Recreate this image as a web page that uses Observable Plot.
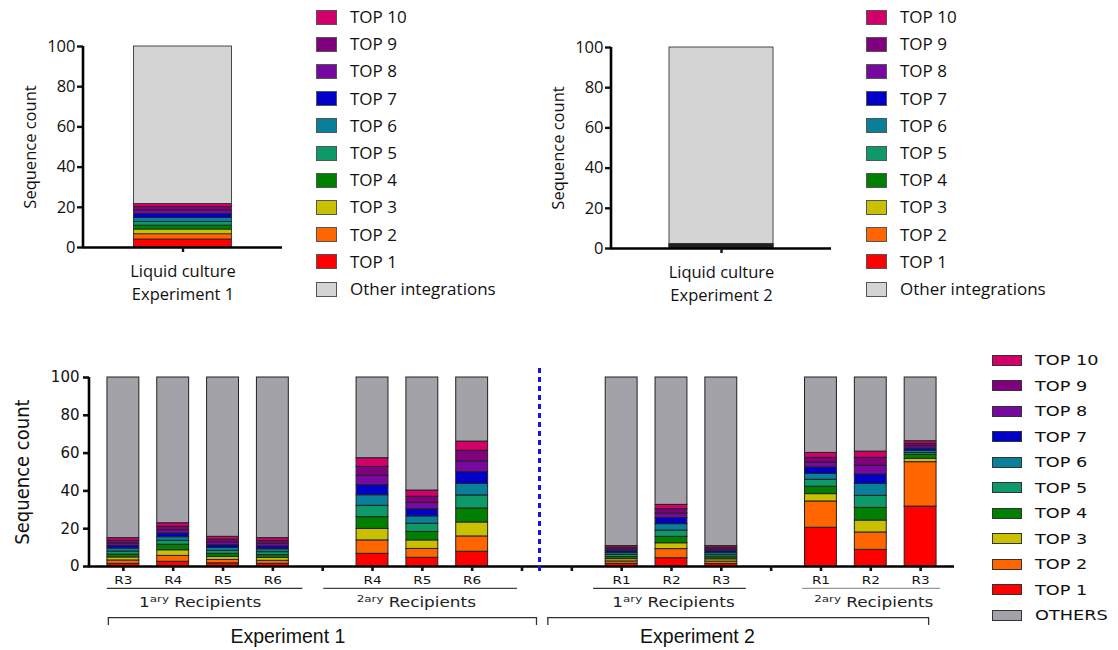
<!DOCTYPE html>
<html><head><meta charset="utf-8">
<script src="https://cdn.jsdelivr.net/npm/d3@7"></script>
<script src="https://cdn.jsdelivr.net/npm/@observablehq/plot@0.6"></script>
<style>
body{margin:0;background:#fff;}
#root{position:relative;width:1118px;height:650px;overflow:hidden;background:#fff;}
.panel{position:absolute;}
.panel svg{overflow:visible;}
</style></head><body>
<div id="root"></div>
<script>
// ---------------- DATA ----------------
const seriesNames = ["TOP 1","TOP 2","TOP 3","TOP 4","TOP 5","TOP 6","TOP 7","TOP 8","TOP 9","TOP 10"];
const seriesColors = ["#ff0000","#ff6600","#c8c000","#008000","#0e9a68","#0a7f99","#0000c8","#7708a0","#800080","#d4006a"];
const topOtherName = "Other integrations";
const topOtherColor = "#d4d4d4";
const bottomOtherName = "OTHERS";
const bottomOtherColor = "#a3a2a8";

// top panels: one bar each
const liquidExp1Category = "Liquid culture\nExperiment 1";
const liquidExp2Category = "Liquid culture\nExperiment 2";
const liquidExp1 = [4.0, 2.6, 2.3, 2.0, 1.8, 2.0, 2.0, 1.7, 1.7, 1.5];
const liquidExp2 = [0.3, 0.25, 0.25, 0.25, 0.2, 0.2, 0.2, 0.2, 0.2, 0.2];

// bottom panel categories (blank ones are spacers)
const bottomCategories = ["e1p_R3","e1p_R4","e1p_R5","e1p_R6","gap1","e1s_R4","e1s_R5","e1s_R6","gap2","gap3","e2p_R1","e2p_R2","e2p_R3","gap4","e2s_R1","e2s_R2","e2s_R3"];
const bottomTickLabels = ["R3","R4","R5","R6","","R4","R5","R6","","","R1","R2","R3","","R1","R2","R3"];

// TOP 1 .. TOP 10 shares per recipient
const e1p_R3 = [1.4, 1.8, 1.6, 1.5, 1.6, 1.6, 1.4, 1.3, 1.4, 1.4];
const e1p_R4 = [2.5, 3.1, 3.0, 2.9, 2.1, 1.9, 2.0, 1.7, 1.8, 1.9];
const e1p_R5 = [1.7, 1.8, 1.6, 1.6, 1.6, 1.5, 1.5, 1.5, 1.4, 1.5];
const e1p_R6 = [1.4, 1.6, 1.5, 1.5, 1.6, 1.5, 1.5, 1.5, 1.4, 1.5];
const e1s_R4 = [6.7, 7.1, 6.1, 6.2, 6.0, 5.6, 5.3, 5.0, 4.7, 4.6];
const e1s_R5 = [4.6, 4.7, 4.5, 4.5, 4.3, 3.9, 3.8, 3.4, 3.2, 3.3];
const e1s_R6 = [7.8, 8.1, 7.4, 7.4, 6.9, 6.1, 6.2, 5.7, 5.6, 4.9];
const e2p_R1 = [1.4, 1.3, 1.2, 1.1, 1.1, 1.0, 1.0, 0.9, 0.9, 0.9];
const e2p_R2 = [4.4, 4.8, 3.1, 3.4, 3.3, 3.4, 3.2, 2.4, 2.3, 2.3];
const e2p_R3 = [1.3, 1.3, 1.2, 1.1, 1.1, 1.1, 1.0, 0.9, 0.9, 0.9];
const e2s_R1 = [20.5, 13.9, 3.9, 3.9, 3.7, 3.1, 3.4, 2.6, 2.5, 2.6];
const e2s_R2 = [8.8, 9.2, 6.3, 6.7, 6.4, 6.3, 5.0, 4.6, 4.2, 3.3];
const e2s_R3 = [31.7, 23.5, 1.8, 2.1, 1.0, 1.1, 1.2, 1.3, 1.2, 1.4];

const yTicks = [0, 20, 40, 60, 80, 100];

// annotation texts under the bottom panel
const groupLabels = ["1ary Recipients","2ary Recipients","1ary Recipients","2ary Recipients"];
const groupSpans = [["e1p_R3","e1p_R6"],["gap1","gap2"],["e2p_R1","e2p_R3"],["e2s_R1","e2s_R3"]];
const groupLabelAt = ["e1p_R4","e1s_R5","e2p_R2","e2s_R2"];
const experimentLabels = ["Experiment 1","Experiment 2"];
const experimentSpans = [["e1p_R3","gap2"],["gap3","e2s_R3"]];
const experimentLabelAt = ["e1p_R6","e2p_R2"];
const dividerAt = "gap2";

// ---------------- LAYOUT (pixel offsets only) ----------------
const groupLineOffsets = [[-16, 30], [1, -4.5], [-28, 25], [-18.5, 20]];
const groupLineColors = ["#333", "#444", "#333", "#999"];
const groupLabelDx = [27, -6, 2, 3];
const experimentOffsets = [[-15, 14.5], [-24, 8]];
const experimentLabelDx = [15, 26];
const dividerDx = 17.5;
const yLine = -11.6, yGroupText = -21.2, yBracket = -27, yBracketEnd = -31.2, yExpText = -40.7;

// ---------------- BUILD ----------------
const root = d3.select("#root");
const colorOf = new Map(seriesNames.map((s, i) => [s, seriesColors[i]]));
colorOf.set(topOtherName, topOtherColor);
colorOf.set(bottomOtherName, bottomOtherColor);

function stackRows(cat, values, otherName) {
  const rows = values.map((v, i) => ({cat, series: seriesNames[i], value: v}));
  rows.push({cat, series: otherName, value: 100 - d3.sum(values)});
  return rows;
}

function addYAxisLine(svg) {
  const yr = svg.scale("y").range, xr = svg.scale("x").range;
  d3.select(svg).append("line")
    .attr("x1", xr[0]).attr("x2", xr[0]).attr("y1", yr[0] + 1.2).attr("y2", yr[1])
    .attr("stroke", "#000").attr("stroke-width", 2.6);
}

function topPanel(cat, values, o) {
  const rows = stackRows(cat, values, topOtherName);
  const svg = Plot.plot({
    width: o.width, height: 310,
    marginLeft: 83, marginRight: o.marginRight, marginTop: 46, marginBottom: 63,
    style: {fontFamily: "'Open Sans', sans-serif", fontSize: "16.5px", color: "#111", background: "transparent"},
    x: {domain: [cat], padding: o.padding, round: false, label: null},
    y: {domain: [0, 100], label: null},
    color: {domain: [...seriesNames, topOtherName], range: [...seriesColors, topOtherColor]},
    marks: [
      Plot.barY(rows, {x: "cat", y: "value", fill: "series", stroke: "#222", strokeWidth: 0.8}),
      Plot.ruleY([0], {strokeWidth: 2.6, stroke: "#000"}),
      Plot.axisY(yTicks, {tickSize: 6, strokeWidth: 2.4, tickPadding: 2, fontSize: 16.5, label: null}),
      Plot.axisX({tickSize: 5, strokeWidth: 2.4, tickPadding: 7, fontSize: 16.5, lineHeight: 1.45, label: null}),
      Plot.text(["Sequence count"], {frameAnchor: "left", textAnchor: "middle", rotate: -90, dx: -53, fontSize: 16.5})
    ]
  });
  addYAxisLine(svg);
  root.append("div").attr("class", "panel").style("left", o.left + "px").style("top", o.top + "px").node().appendChild(svg);
}

topPanel(liquidExp1Category, liquidExp1, {left: 0, top: 0, width: 300, marginRight: 18, padding: 0.34});
topPanel(liquidExp2Category, liquidExp2, {left: 528, top: 1, width: 320, marginRight: 17, padding: 0.358});

// bottom panel
const bottomBars = [e1p_R3, e1p_R4, e1p_R5, e1p_R6, null, e1s_R4, e1s_R5, e1s_R6, null, null, e2p_R1, e2p_R2, e2p_R3, null, e2s_R1, e2s_R2, e2s_R3];
const bottomRows = bottomBars.flatMap((vals, i) => vals ? stackRows(bottomCategories[i], vals, bottomOtherName) : []);
const tickLabelOf = new Map(bottomCategories.map((c, i) => [c, bottomTickLabels[i]]));

const annotationMarks = [];
groupLabels.forEach((lab, i) => {
  const [a, b] = groupSpans[i];
  const [s, e] = groupLineOffsets[i];
  annotationMarks.push(Plot.ruleY([{a, b}], {x1: "a", x2: "b", y: () => yLine, stroke: groupLineColors[i], strokeWidth: 1.3,
    insetLeft: s + 15.95, insetRight: 15.95 - e}));
  annotationMarks.push(Plot.text([lab], {x: () => groupLabelAt[i], y: () => yGroupText, dx: groupLabelDx[i], lineAnchor: "bottom",
    fontSize: 13.5, fontFamily: "'DejaVu Sans', sans-serif", fill: "#222"}));
});
experimentLabels.forEach((lab, i) => {
  const [a, b] = experimentSpans[i];
  const [s, e] = experimentOffsets[i];
  annotationMarks.push(Plot.ruleY([{a, b}], {x1: "a", x2: "b", y: () => yBracket, stroke: "#333", strokeWidth: 1.3,
    insetLeft: s + 15.95, insetRight: 15.95 - e}));
  annotationMarks.push(Plot.ruleX([a], {x: d => d, dx: s, y1: () => yBracket, y2: () => yBracketEnd, stroke: "#333", strokeWidth: 1.3}));
  annotationMarks.push(Plot.ruleX([b], {x: d => d, dx: e, y1: () => yBracket, y2: () => yBracketEnd, stroke: "#333", strokeWidth: 1.3}));
  annotationMarks.push(Plot.text([lab], {x: () => experimentLabelAt[i], y: () => yExpText, dx: experimentLabelDx[i], lineAnchor: "bottom",
    fontSize: 19.5, fontFamily: "'Liberation Sans', Arial, sans-serif", fill: "#111"}));
});

const bottomSvg = Plot.plot({
  width: 975, height: 310,
  marginLeft: 89, marginRight: 21, marginTop: 37, marginBottom: 84,
  style: {fontFamily: "'DejaVu Sans', sans-serif", fontSize: "15px", color: "#111", background: "transparent"},
  x: {domain: bottomCategories, padding: 0.36, round: false, label: null, tickFormat: d => tickLabelOf.get(d)},
  y: {domain: [0, 100], label: null},
  color: {domain: [...seriesNames, bottomOtherName], range: [...seriesColors, bottomOtherColor]},
  marks: [
    Plot.barY(bottomRows, {x: "cat", y: "value", fill: "series", stroke: "#222", strokeWidth: 1}),
    Plot.ruleY([0], {strokeWidth: 2.6, stroke: "#000"}),
    Plot.axisY(yTicks, {tickSize: 6, strokeWidth: 2.6, tickPadding: 4, fontSize: 15, label: null}),
    Plot.axisX({tickSize: 5, strokeWidth: 2.6, tickPadding: 5, fontSize: 10.5, label: null, tickFormat: d => tickLabelOf.get(d)}),
    Plot.ruleX([dividerAt], {x: d => d, dx: dividerDx, y1: () => -2.6, y2: () => 104.8, stroke: "#1414e6", strokeWidth: 3, strokeDasharray: "5,4"}),
    Plot.text(["Sequence count"], {frameAnchor: "left", textAnchor: "middle", rotate: -90, dx: -67, fontSize: 20,
      fontFamily: "'Liberation Sans Narrow', 'DejaVu Sans Condensed', sans-serif"}),
    ...annotationMarks
  ]
});
addYAxisLine(bottomSvg);
root.append("div").attr("class", "panel").style("left", "0px").style("top", "340px").node().appendChild(bottomSvg);

// post-process: superscripts and wide glyphs of the small labels
function stretch(el, k) {
  const tr = el.getAttribute("transform");
  if (tr) el.setAttribute("transform", tr + ` scale(${k},1)`);
  else {
    const x = +el.getAttribute("x") || 0, y = +el.getAttribute("y") || 0;
    el.removeAttribute("x"); el.removeAttribute("y");
    el.setAttribute("transform", `translate(${x},${y}) scale(${k},1)`);
  }
}
d3.select(bottomSvg).selectAll("text").each(function() {
  const t = this.textContent;
  const m = /^(\d)ary (.+)$/.exec(t);
  if (m) {
    const sel = d3.select(this);
    sel.text(null);
    if (m[1] === "1") {
      sel.append("tspan").text("1");
      sel.append("tspan").attr("font-size", "9.5px").attr("dy", "-5").text("ary");
    } else {
      sel.append("tspan").attr("font-size", "9.5px").attr("dy", "-5").text("2ary");
    }
    sel.append("tspan").attr("dy", "5").text(" " + m[2]);
    stretch(this, 1.25);
  } else if (/^R\d$/.test(t)) {
    stretch(this, 1.3);
  }
});

// legends (HTML)
function drawLegend(names, o) {
  names.forEach((name, i) => {
    const cy = o.y0 + o.step * i;
    root.append("div").style("position", "absolute").style("left", o.x + "px").style("top", (cy - o.sh / 2) + "px")
      .style("width", o.sw + "px").style("height", o.sh + "px").style("background", colorOf.get(name))
      .style("border", o.border).style("box-sizing", "border-box");
    root.append("div").style("position", "absolute").style("left", o.tx + "px").style("top", (cy - 15) + "px")
      .style("font-family", o.family).style("font-size", o.size + "px")
      .style("height", "30px").style("line-height", "30px").style("color", "#111")
      .style("white-space", "nowrap").style("transform", o.scale ? `scaleX(${o.scale})` : null)
      .style("transform-origin", "left center").text(name);
  });
}
const topLegendNames = [...seriesNames].reverse().concat([topOtherName]);
const bottomLegendNames = [...seriesNames].reverse().concat([bottomOtherName]);
drawLegend(topLegendNames, {x: 316, tx: 350, y0: 17, step: 27.2, sw: 21, sh: 15, border: "1px solid #555", family: "'Open Sans', sans-serif", size: 17});
drawLegend(topLegendNames, {x: 866, tx: 900, y0: 17, step: 27.2, sw: 21, sh: 15, border: "1px solid #555", family: "'Open Sans', sans-serif", size: 17});
drawLegend(bottomLegendNames, {x: 992, tx: 1035, y0: 360, step: 25.5, sw: 30, sh: 11, border: "1.5px solid #333", family: "'DejaVu Sans', sans-serif", size: 14.5, scale: 1.22});
</script>
</body></html>
